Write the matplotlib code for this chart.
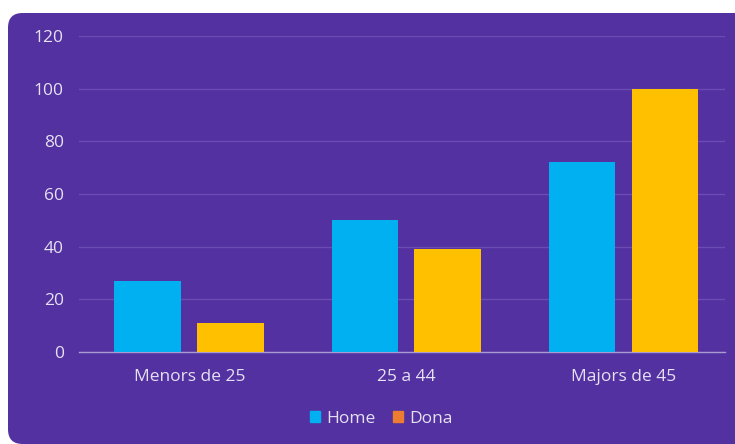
import matplotlib
matplotlib.use("Agg")
import matplotlib.pyplot as plt
from matplotlib.patches import FancyBboxPatch, Patch
import numpy as np

categories = ["Menors de 25", "25 a 44", "Majors de 45"]
home = [27, 50, 72]
dona = [11, 39, 100]
yticks = [0, 20, 40, 60, 80, 100, 120]

bg = "#5331A0"
txt = "#E6E1F3"
plt.rcParams['font.family'] = ['Open Sans', 'DejaVu Sans']

fig = plt.figure(figsize=(7.35, 4.44), dpi=100)
fig.patch.set_facecolor("white")
W, H = 735, 444
box = FancyBboxPatch((8 / W, 0.0), 1.2, (444 - 13) / H,
                     boxstyle="round,pad=0,rounding_size=0.02",
                     transform=fig.transFigure, facecolor=bg, edgecolor="none",
                     mutation_aspect=W / H, zorder=-10)
fig.patches.append(box)

ax = fig.add_axes([79 / W, (444 - 352) / H, (725 - 79) / W, (352 - 36) / H])
ax.set_facecolor("none")
x = np.arange(len(categories))
w = 0.307
ax.bar(x - 0.191, home, w, color="#00B0F0", zorder=3)
ax.bar(x + 0.191, dona, w, color="#FFC000", zorder=3)
ax.set_xlim(-0.508, 2.468)
ax.set_ylim(0, 120)
ax.set_yticks(yticks)
ax.yaxis.grid(True, color="#6A4DB3", linewidth=1, zorder=0)
for s in ["top", "right", "left"]:
    ax.spines[s].set_visible(False)
ax.spines["bottom"].set_color("#A99BD6")
ax.spines["bottom"].set_linewidth(1)
ax.tick_params(axis="both", length=0, colors=txt, labelsize=12.5)
ax.tick_params(axis="y", pad=11)
ax.tick_params(axis="x", pad=12)
ax.set_xticks(x)
ax.set_xticklabels(categories)

handles = [Patch(color="#00B0F0", label="Home"), Patch(color="#ED7D31", label="Dona")]
leg = fig.legend(handles=handles, loc="center", bbox_to_anchor=(381 / W, 1 - 419 / H),
                 ncol=2, frameon=False, fontsize=12.5, handlelength=0.6, handleheight=0.6,
                 handletextpad=0.35, columnspacing=1.0, labelcolor=txt)
fig.savefig("out.png", dpi=100, facecolor="white")
